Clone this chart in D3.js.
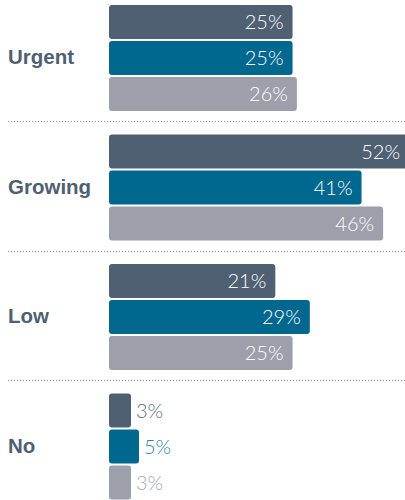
<!DOCTYPE html>
<html>
<head>
<meta charset="utf-8">
<script src="https://cdn.jsdelivr.net/npm/d3@7"></script>
<style>
  html, body { margin: 0; padding: 0; background: #fff; }
  #graf { width: 405px; height: 500px; overflow: hidden; }
</style>
</head>
<body>
<div id="graf"></div>
<script>
// -- Datos
categorias = ['Urgent', 'Growing', 'Low', 'No']
series = ['serie1', 'serie2', 'serie3']
valores1 = [25, 52, 21, 3]
valores2 = [25, 41, 29, 5]
valores3 = [26, 46, 25, 3]

datos = categorias.map((c, i) => ({
    cat: c,
    vals: [valores1[i], valores2[i], valores3[i]]
}))

// -- Configuración del canvas
ancho_total = 405
alto_total = 500

colores = ['#4f6073', '#00688f', '#9d9fab']
coloresTexto = ['#5b6b7c', '#2a86ad', '#a3a5b0']
colorEtiqueta = '#4f5f72'

svg = d3.select('#graf').append('svg')
        .attr('width', ancho_total)
        .attr('height', alto_total)

x0 = 109

// -- Escaladores
x = d3.scaleLinear().domain([0, 5, 20, 52]).range([10, 30, 162, 300])
y0 = d3.scaleBand().domain(categorias).range([5, 5 + 4 * 129.5])
y1 = d3.scaleBand().domain(series).range([0, 106]).paddingInner(2 / 36)

// -- Separadores punteados
svg.selectAll('line.sep')
    .data(categorias.slice(0, -1))
    .enter().append('line')
        .attr('class', 'sep')
        .attr('x1', 8)
        .attr('x2', ancho_total)
        .attr('y1', d => Math.round(y0(d) + 116) + 0.5)
        .attr('y2', d => Math.round(y0(d) + 116) + 0.5)
        .attr('stroke', '#8a8f99')
        .attr('stroke-width', 1)
        .attr('stroke-dasharray', '1,2')

grupos = svg.selectAll('g.grupo')
    .data(datos)
    .enter().append('g')
        .attr('class', 'grupo')
        .attr('transform', d => `translate(0, ${y0(d.cat)})`)

// -- Etiqueta de categoría
grupos.append('text')
    .attr('x', 8)
    .attr('y', 53 + 6)
    .attr('font-family', 'Liberation Sans, Arial, sans-serif')
    .attr('font-weight', 'bold')
    .attr('font-size', '20.5px')
    .attr('fill', colorEtiqueta)
    .text(d => d.cat)

// -- Barras
barras = grupos.selectAll('g.barra')
    .data(d => d.vals.map((v, i) => ({ serie: series[i], v: v, i: i })))
    .enter().append('g')
        .attr('class', 'barra')

barras.append('rect')
    .attr('x', x0)
    .attr('y', d => y1(d.serie))
    .attr('width', d => x(d.v))
    .attr('height', y1.bandwidth())
    .attr('rx', 3)
    .attr('fill', d => colores[d.i])

barras.append('text')
    .attr('x', d => d.v >= 10 ? x0 + x(d.v) - 9 : x0 + x(d.v) + 5)
    .attr('y', d => y1(d.serie) + y1.bandwidth() / 2 + 7)
    .attr('text-anchor', d => d.v >= 10 ? 'end' : 'start')
    .attr('font-family', 'Lato, Liberation Sans, sans-serif')
    .attr('font-weight', 300)
    .attr('font-size', '20px')
    .attr('fill', d => d.v >= 10 ? '#ffffff' : coloresTexto[d.i])
    .text(d => `${d.v}%`)
</script>
</body>
</html>
